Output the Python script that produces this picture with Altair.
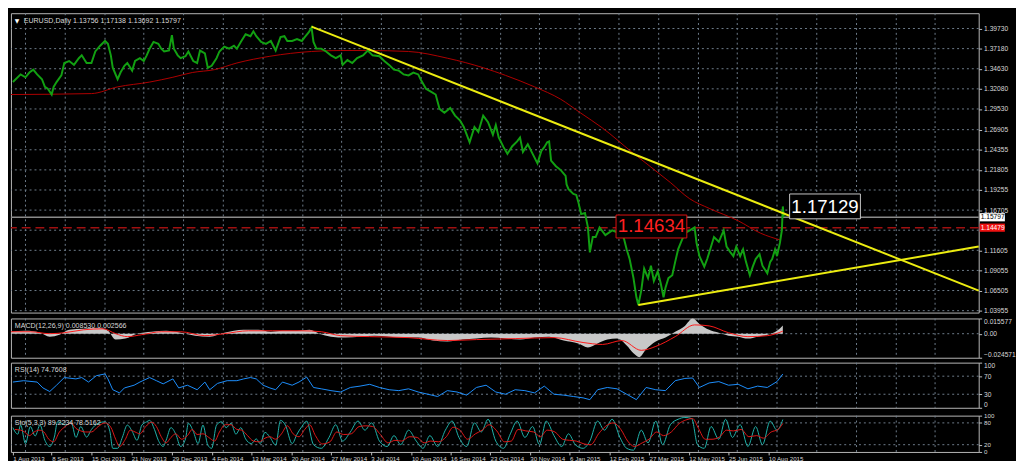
import json
import altair as alt
import pandas as pd

# ---------------- price (bar index, close) ----------------
bar_x = [2,10,15,19,23,27,32,35,38,42,44,47,52,55,60,65,70,73,78,83,87,92,97,100,103,105,110,113,117,120,
         125,128,133,137,140,143,147,152,155,158,163,166,168,172,175,180,183,188,192,195,200,203,207,212,215,
         220,225,230,233,237,242,247,250,253,258,263,268,273,278,282,285,290,295,300,303,307,310,312,315,320,
         325,330,335,340,342,347,352,357,363,368,373,380,385,390,395,400,405,410,415,420,423,428,433,438,442,
         447,453,458,463,467,470,473,478,482,487,492,497,500,503,508,512,517,522,525,528,533,538,543,547,550,
         553,555,557,562,567,572,573,575,580,583,585,588,592,593,595,597,600,603,607,613,620,627,632,635,638,
         642,645,647,650,653,657,660,663,667,670,673,675,678,682,685,688,692,695,700,705,707,710,715,718,722,
         725,730,735,738,742,745,748,752,755,758,762,765,768,772,775,780,783,785,788,790,793,795,796,797]
close_px = [1.3294,1.3391,1.3355,1.3415,1.3452,1.3391,1.3330,1.3233,1.3209,1.3136,1.3233,1.3294,1.3379,1.3536,
            1.3561,1.3512,1.3597,1.3633,1.3536,1.3536,1.3682,1.3755,1.3815,1.3779,1.3633,1.3476,1.3330,1.3415,
            1.3500,1.3536,1.3439,1.3561,1.3597,1.3561,1.3633,1.3718,1.3803,1.3779,1.3718,1.3682,1.3694,1.3888,
            1.3718,1.3633,1.3597,1.3621,1.3682,1.3561,1.3536,1.3694,1.3658,1.3476,1.3500,1.3597,1.3682,1.3743,
            1.3718,1.3755,1.3718,1.3803,1.3900,1.3876,1.3937,1.3876,1.3803,1.3779,1.3815,1.3694,1.3864,1.3876,
            1.3815,1.3815,1.3840,1.3815,1.3864,1.3924,1.3985,1.3803,1.3718,1.3718,1.3682,1.3633,1.3597,1.3633,
            1.3512,1.3573,1.3536,1.3597,1.3633,1.3694,1.3633,1.3621,1.3561,1.3512,1.3452,1.3439,1.3391,1.3379,
            1.3415,1.3391,1.3318,1.3209,1.3173,1.3136,1.2954,1.2906,1.2966,1.2869,1.2809,1.2724,1.2627,1.2530,
            1.2724,1.2663,1.2869,1.2785,1.2627,1.2748,1.2591,1.2469,1.2384,1.2481,1.2542,1.2591,1.2409,1.2506,
            1.2384,1.2263,1.2421,1.2469,1.2530,1.2542,1.2299,1.2227,1.2178,1.2105,1.1996,1.1936,1.1875,1.1863,
            1.1778,1.1620,1.1633,1.1572,1.1451,1.1135,1.1329,1.1329,1.1451,1.1354,1.1414,1.1378,1.1317,1.1172,
            1.1050,1.0808,1.0565,1.0468,1.0650,1.0929,1.0808,1.0966,1.0772,1.0893,1.0747,1.0565,1.0687,1.0808,
            1.0844,1.1014,1.1172,1.1293,1.1378,1.1414,1.1451,1.1257,1.1087,1.0953,1.1050,1.1208,1.1329,1.1269,
            1.1414,1.1208,1.1135,1.1087,1.1208,1.1087,1.1172,1.1014,1.0844,1.0953,1.1050,1.1111,1.0966,1.0869,
            1.1014,1.1050,1.1172,1.1087,1.1257,1.1414,1.1717,1.1584]

# moving average (red)
ma_x = [0,83,110,143,167,187,210,233,267,310,340,367,410,450,487,510,540,567,587,610,640,680,700,720,750,773,793]
ma_px = [1.3136,1.3148,1.3233,1.3294,1.3355,1.3415,1.3452,1.3536,1.3621,1.3682,1.3694,1.3694,1.3682,1.3597,
         1.3476,1.3379,1.3233,1.3076,1.2906,1.2712,1.2409,1.2021,1.1814,1.1693,1.1535,1.1378,1.1293]

# trend lines (yellow)
trend_id = ["down", "down", "up", "up"]
trend_x = [310, 998, 647, 998]
trend_px = [1.3997, 1.0650, 1.0468, 1.1208]

# axis ticks / grid
price_ticks = [1.39730,1.37180,1.34630,1.32080,1.29530,1.26905,1.24355,1.21805,1.19255,1.16705,
               1.11605,1.09055,1.06505,1.03955]
price_grid = price_ticks + [1.14155]
grid_x = [15,56,97,137,178,219,260,301,341,382,423,464,505,545,586,627,668,709,749,790,831,872,913,953]
date_pos = [2,42,83,124,166,207,248,289,330,371,413,453,494,535,576,617,658,699,740,781]
date_lbl = ["1 Aug 2013","8 Sep 2013","15 Oct 2013","21 Nov 2013","29 Dec 2013","4 Feb 2014",
            "13 Mar 2014","20 Apr 2014","27 May 2014","3 Jul 2014","10 Aug 2014","16 Sep 2014",
            "23 Oct 2014","30 Nov 2014","6 Jan 2015","12 Feb 2015","27 Mar 2015","12 May 2015",
            "25 Jun 2015","10 Aug 2015"]

bid_level = 1.15797
hline_level = 1.14479
title_text = "EURUSD,Daily  1.13756 1.17138 1.13692 1.15797"

# annotations
note_text = ["1.14634", "1.17129"]
note_x = [660.5, 839.5]
note_y = [1.14634, 1.17129]
note_x1 = [624, 803]
note_x2 = [697, 876]
note_y1 = [1.1608, 1.1875]
note_y2 = [1.1317, 1.1560]

# ---------------- MACD ----------------
macd_x = [0,15,30,40,50,60,75,90,100,108,118,130,145,160,175,190,205,220,240,255,268,280,295,308,318,330,345,
          360,375,390,405,420,435,450,465,480,495,510,525,540,555,570,585,595,605,615,625,635,642,648,655,665,
          675,685,695,703,710,720,730,740,750,760,770,780,790,796]
macd_v = [0.002,0.003,0.001,-0.003,-0.001,0.004,0.005,0.006,0.003,-0.006,-0.005,0.000,0.002,0.003,0.001,-0.002,
          -0.003,0.001,0.004,0.004,0.002,0.003,0.003,0.004,0.000,-0.003,-0.004,-0.003,-0.002,-0.003,-0.004,-0.004,
          -0.007,-0.008,-0.006,-0.005,-0.004,-0.005,-0.006,-0.004,-0.003,-0.007,-0.010,-0.014,-0.010,-0.006,-0.005,
          -0.012,-0.020,-0.024,-0.016,-0.008,-0.004,0.002,0.008,0.0155,0.010,0.004,0.001,-0.002,-0.003,-0.005,
          -0.003,-0.001,0.003,0.0085]
macd_sig_x = [0,20,40,55,75,95,108,120,135,155,175,200,220,245,270,300,320,340,370,410,450,480,520,560,590,610,
              630,650,665,685,705,720,740,760,780,796]
macd_sig_v = [0.002,0.002,0.000,0.001,0.004,0.005,0.000,-0.003,-0.001,0.002,0.002,-0.002,0.000,0.003,0.003,0.003,
              0.002,-0.002,-0.003,-0.004,-0.007,-0.006,-0.005,-0.004,-0.009,-0.011,-0.007,-0.017,-0.013,-0.003,
              0.009,0.008,0.001,-0.003,-0.002,0.0026]
macd_ticks = [-0.024571, 0.0, 0.015577]

# ---------------- RSI ----------------
rsi_x = [2,13,27,33,40,47,55,67,73,80,88,97,100,105,112,117,127,133,143,150,157,167,173,182,192,200,205,213,223,
         233,240,247,253,260,267,273,280,290,297,305,312,320,330,340,350,360,370,380,390,400,410,420,430,440,450,
         460,470,480,490,500,510,520,530,540,550,560,570,580,590,597,605,615,625,635,645,655,665,675,685,695,703,
         710,720,730,740,750,760,770,780,790,796]
rsi_v = [57,60,57,44,36,50,67,64,67,57,71,75,64,40,33,44,50,57,67,60,53,64,44,50,40,57,40,54,60,60,64,67,64,50,
         44,40,57,50,57,68,45,42,38,35,45,48,52,45,40,38,42,35,30,25,38,35,28,45,50,35,30,40,38,33,48,30,28,25,22,
         18,40,45,42,30,18,45,40,38,60,65,66,45,55,58,50,52,42,48,45,58,74.76]
rsi_ticks = [0, 30, 70, 100]

# ---------------- Stochastic ----------------
sto_x = [2,7,10,15,20,25,30,35,40,45,48,57,62,67,72,78,83,90,97,102,105,110,115,120,125,130,135,140,143,148,152,
         157,160,165,170,175,180,183,188,193,198,203,207,212,217,222,227,232,237,242,248,253,257,262,267,273,278,
         283,290,295,300,305,312,320,328,335,342,350,358,365,372,380,388,395,402,410,418,425,432,440,448,455,462,
         470,478,485,492,500,508,515,522,530,538,545,552,560,568,575,582,590,597,605,612,620,628,635,642,650,657,
         665,672,680,688,695,702,708,715,722,730,737,744,752,760,768,775,783,790,796]
sto_v = [67,49,74,23,70,44,74,32,15,44,83,74,83,40,70,41,62,79,83,57,10,10,41,74,57,32,74,83,87,62,32,15,32,67,
         49,15,36,79,57,23,74,19,10,74,83,67,79,49,67,36,23,36,23,54,41,19,87,74,23,49,70,85,20,10,40,75,30,55,85,
         60,80,30,15,45,20,60,30,10,45,15,60,85,40,15,80,55,90,30,10,50,85,40,70,20,85,45,15,50,20,10,30,85,60,90,
         40,10,5,60,25,85,20,75,90,95,92,20,10,70,35,90,40,75,15,70,20,85,60,89.22]
sto_sig_x = [4,10,14,19,24,29,34,39,44,50,56,62,67,72,77,83,90,97,103,108,112,118,123,128,133,139,145,150,155,
             160,165,170,176,182,187,192,198,204,210,215,221,227,233,238,244,250,256,262,267,273,279,285,291,297,
             303,308,314,321,329,336,343,351,359,366,373,381,389,396,403,411,419,426,433,441,449,456,463,471,479,
             486,493,501,509,516,523,531,539,546,553,561,569,576,583,591,598,606,613,621,629,636,643,651,658,666,
             673,681,689,696,703,709,716,723,731,738,745,753,761,769,776,784,791,796]
sto_sig_v = [62,60,55,45,55,60,55,35,28,55,70,80,65,58,55,55,70,80,68,35,15,35,60,55,50,70,82,70,42,25,40,50,35,
             45,62,48,50,40,30,55,75,75,62,60,45,30,28,38,42,35,50,72,50,42,62,75,45,22,28,55,48,50,70,72,70,48,25,
             32,30,42,40,25,30,28,42,68,60,35,50,60,75,58,28,30,62,58,55,42,60,55,35,32,30,22,20,50,70,80,62,30,15,
             25,35,55,45,55,78,88,92,65,35,35,42,60,58,62,42,45,38,55,62,78.52]
sto_ticks = [0, 20, 80, 100]

# ---------------- layout ----------------
W = 986
H_MAIN, H_MACD, H_RSI, H_STO = 305, 40, 46, 37
XDOM = [0, 998]
BG = "#000000"
GRID = "#6f7d8c"
LBL = "#d8d8d8"
FONT = "Liberation Sans"

xs = alt.Scale(domain=XDOM, nice=False, zero=False)
lbl_js = json.dumps(date_lbl)
pos_js = json.dumps(date_pos)
x_axis = alt.Axis(values=date_pos, labelExpr=f"{lbl_js}[indexof({pos_js}, datum.value)]",
                  labelAlign="left", labelPadding=1, tickSize=3, domain=False, grid=False,
                  title=None, labelFontSize=6.3, labelColor=LBL, tickColor="#c0c0c0", labelFont=FONT,
                  labelOverlap=False)


def X(field, bottom=False):
    return alt.X(field, type="quantitative", scale=xs, axis=x_axis if bottom else None)


def Yf(field, scale, axis):
    return alt.Y(field, type="quantitative", scale=scale, axis=axis)


def grid_layers(bottom, levels, yscale, yaxis, yfield="lvl"):
    vg = alt.Chart(pd.DataFrame({"gx": grid_x})).mark_rule(
        color=GRID, strokeDash=[2, 3], strokeWidth=1).encode(x=X("gx", bottom))
    layers = [vg]
    if levels:
        hg = alt.Chart(pd.DataFrame({yfield: levels})).mark_rule(
            color=GRID, strokeDash=[2, 3], strokeWidth=1).encode(y=Yf(yfield, yscale, yaxis))
        layers.append(hg)
    return layers


def label_text(txt):
    return alt.Chart(pd.DataFrame({"t": [txt]})).mark_text(
        align="left", baseline="top", color=LBL, fontSize=7.2, font=FONT).encode(
        x=alt.value(4), y=alt.value(4), text="t:N")


def right_axis(values, size=6.8, **kw):
    return alt.Axis(orient="right", values=values, grid=False, domain=False, tickSize=3,
                    labelPadding=2, title=None, labelFontSize=size, labelColor=LBL,
                    tickColor="#c0c0c0", labelFont=FONT, labelOverlap=False, **kw)


# ---- main panel
ys_main = alt.Scale(domain=[1.0371, 1.4167], nice=False, zero=False)
ax_main = right_axis(price_ticks, format=".5f")

price_df = pd.DataFrame({"bar": bar_x, "close": close_px})
ma_df = pd.DataFrame({"bar": ma_x, "ma": ma_px})
trend_df = pd.DataFrame({"id": trend_id, "bar": trend_x, "px": trend_px})
notes_df = pd.DataFrame({"t": note_text, "x": note_x, "y": note_y, "x1": note_x1, "x2": note_x2,
                         "y1": note_y1, "y2": note_y2})

main_layers = grid_layers(False, price_grid, ys_main, ax_main, "lvl")
main_layers += [
    alt.Chart(pd.DataFrame({"lvl": [bid_level]})).mark_rule(color="#8a8a8a", strokeWidth=1.5).encode(
        y=Yf("lvl", ys_main, ax_main)),
    alt.Chart(pd.DataFrame({"lvl": [hline_level]})).mark_rule(color="#a01010", strokeWidth=1.5,
                                                              strokeDash=[9, 5]).encode(
        y=Yf("lvl", ys_main, ax_main)),
    alt.Chart(ma_df).mark_line(color="#b00000", strokeWidth=1, interpolate="monotone").encode(
        x=X("bar"), y=Yf("ma", ys_main, ax_main)),
    alt.Chart(price_df).mark_line(color="#12a012", strokeWidth=2, interpolate="linear").encode(
        x=X("bar"), y=Yf("close", ys_main, ax_main)),
    alt.Chart(trend_df).mark_line(color="#ecec10", strokeWidth=2).encode(
        x=X("bar"), y=Yf("px", ys_main, ax_main), detail="id:N"),
    alt.Chart(notes_df.iloc[[0]]).mark_rect(fill=BG, stroke="#e01010", strokeWidth=1).encode(
        x=X("x1"), x2="x2", y=Yf("y1", ys_main, ax_main), y2="y2"),
    alt.Chart(notes_df.iloc[[0]]).mark_text(color="#ff2020", fontSize=19, font=FONT,
                                            baseline="middle", align="center").encode(
        x=X("x"), y=Yf("y", ys_main, ax_main), text="t:N"),
    alt.Chart(notes_df.iloc[[1]]).mark_rect(fill=BG, stroke="#c8c8c8", strokeWidth=1).encode(
        x=X("x1"), x2="x2", y=Yf("y1", ys_main, ax_main), y2="y2"),
    alt.Chart(notes_df.iloc[[1]]).mark_text(color="#ffffff", fontSize=19, font=FONT,
                                            baseline="middle", align="center").encode(
        x=X("x"), y=Yf("y", ys_main, ax_main), text="t:N"),
    # right-side price markers
    alt.Chart(pd.DataFrame({"x1": [999], "x2": [1025], "y1": [bid_level + 0.0052],
                            "y2": [bid_level - 0.0052]})).mark_rect(fill="#ffffff").encode(
        x=X("x1"), x2="x2", y=Yf("y1", ys_main, ax_main), y2="y2"),
    alt.Chart(pd.DataFrame({"x": [1000], "y": [bid_level], "t": [f"{bid_level:.5f}"]})).mark_text(
        color="#000000", fontSize=6.8, font=FONT, align="left", baseline="middle").encode(
        x=X("x"), y=Yf("y", ys_main, ax_main), text="t:N"),
    alt.Chart(pd.DataFrame({"x1": [999], "x2": [1025], "y1": [hline_level + 0.0052],
                            "y2": [hline_level - 0.0052]})).mark_rect(fill="#ee1111").encode(
        x=X("x1"), x2="x2", y=Yf("y1", ys_main, ax_main), y2="y2"),
    alt.Chart(pd.DataFrame({"x": [1000], "y": [hline_level], "t": [f"{hline_level:.5f}"]})).mark_text(
        color="#ffffff", fontSize=6.8, font=FONT, align="left", baseline="middle").encode(
        x=X("x"), y=Yf("y", ys_main, ax_main), text="t:N"),
    alt.Chart(pd.DataFrame({"t": ["\u25BC"]})).mark_text(
        align="left", baseline="top", color="#ffffff", fontSize=6, font="DejaVu Sans").encode(
        x=alt.value(4), y=alt.value(5), text="t:N"),
    alt.Chart(pd.DataFrame({"t": [title_text]})).mark_text(
        align="left", baseline="top", color=LBL, fontSize=7.2, font=FONT).encode(
        x=alt.value(13), y=alt.value(4), text="t:N"),
]
main = alt.layer(*main_layers).properties(width=W, height=H_MAIN)

# ---- MACD panel
ys_macd = alt.Scale(domain=[-0.024571, 0.015577], nice=False, zero=False)
ax_macd = right_axis(macd_ticks, labelFlush=True,
                     labelExpr="datum.value == 0 ? '0.00' : format(datum.value, '.6f')")
macd_df = pd.DataFrame({"bar": macd_x, "m": macd_v})
macd_sig_df = pd.DataFrame({"bar": macd_sig_x, "s": macd_sig_v})
macd_layers = grid_layers(False, [0.0], ys_macd, ax_macd, "lvl")
macd_layers += [
    alt.Chart(macd_df).mark_area(color="#c8c8c8", opacity=1, interpolate="monotone").encode(
        x=X("bar"), y=Yf("m", ys_macd, ax_macd), y2=alt.datum(0)),
    alt.Chart(macd_sig_df).mark_line(color="#ff1a1a", strokeWidth=1, interpolate="monotone").encode(
        x=X("bar"), y=Yf("s", ys_macd, ax_macd)),
    label_text("MACD(12,26,9) 0.008530 0.002566"),
]
macd = alt.layer(*macd_layers).properties(width=W, height=H_MACD)

# ---- RSI panel
ys_rsi = alt.Scale(domain=[0, 100], nice=False, zero=False)
ax_rsi = right_axis(rsi_ticks, labelFlush=True)
rsi_df = pd.DataFrame({"bar": rsi_x, "r": rsi_v})
rsi_layers = grid_layers(False, [30, 70], ys_rsi, ax_rsi, "lvl")
rsi_layers += [
    alt.Chart(rsi_df).mark_line(color="#1e90ff", strokeWidth=1).encode(
        x=X("bar"), y=Yf("r", ys_rsi, ax_rsi)),
    label_text("RSI(14) 74.7608"),
]
rsi = alt.layer(*rsi_layers).properties(width=W, height=H_RSI)

# ---- Stochastic panel
ys_sto = alt.Scale(domain=[0, 100], nice=False, zero=False)
ax_sto = right_axis(sto_ticks, size=6.3, labelFlush=True, labelFlushOffset=3)
sto_df = pd.DataFrame({"bar": sto_x, "k": sto_v})
sto_sig_df = pd.DataFrame({"bar": sto_sig_x, "d": sto_sig_v})
sto_layers = grid_layers(True, [20, 80], ys_sto, ax_sto, "lvl")
sto_layers += [
    alt.Chart(sto_df).mark_line(color="#20b2aa", strokeWidth=1, interpolate="monotone").encode(
        x=X("bar", True), y=Yf("k", ys_sto, ax_sto)),
    alt.Chart(sto_sig_df).mark_line(color="#e01818", strokeWidth=1, interpolate="monotone").encode(
        x=X("bar", True), y=Yf("d", ys_sto, ax_sto)),
    label_text("Sto(5,3,3) 89.2234 78.5162"),
]
sto = alt.layer(*sto_layers).properties(width=W, height=H_STO)

chart = alt.vconcat(main, macd, rsi, sto, spacing=2).properties(
    padding={"left": 0, "top": 0, "right": 0, "bottom": 0}
).configure(background=BG).configure_view(stroke="#b8b8b8", strokeWidth=1)

chart.save("out.html", embed_options={"renderer": "svg", "actions": False})
